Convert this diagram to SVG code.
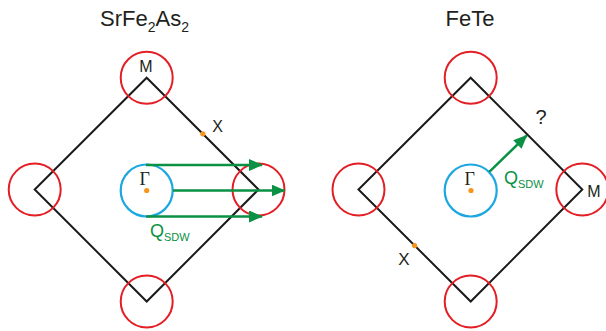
<svg xmlns="http://www.w3.org/2000/svg" width="606" height="331" viewBox="0 0 606 331">
<style>
text{font-family:"Liberation Sans",Arial,sans-serif;fill:#231f20}
.bz{fill:none;stroke:#1a1a1a;stroke-width:2}
.pk{fill:none;stroke:#e31e24;stroke-width:2}
.gm{fill:none;stroke:#1ca7e1;stroke-width:2.2}
.dot{fill:#f7941d}
.q{stroke:#0a9143;stroke-width:2.5;fill:none;marker-end:url(#ah)}
.ql{fill:#0a9143}
.gam{font-family:"Liberation Serif","Times New Roman",serif;font-size:18px}
</style>
<defs>
<marker id="ah" viewBox="0 0 14 12" refX="13" refY="6" markerWidth="14" markerHeight="12" markerUnits="userSpaceOnUse" orient="auto">
<path d="M0,0 L14,6 L0,12 Z" fill="#0a9143"/>
</marker>
</defs>

<g id="title-left"><text x="144.5" y="26" font-size="22" text-anchor="middle">SrFe<tspan font-size="14" dy="6">2</tspan><tspan dy="-6">As</tspan><tspan font-size="14" dy="6">2</tspan></text></g>
<g id="title-right"><text x="470" y="26" font-size="22" text-anchor="middle">FeTe</text></g>

<g id="bz-left">
<path class="bz" d="M146.7,77.7 L258.5,189.5 L146.7,301.5 L34.7,189.5 Z"/>
</g>
<g id="pockets-left">
<circle class="pk" cx="146.7" cy="77.7" r="26"/>
<circle class="pk" cx="258.5" cy="189.5" r="26"/>
<circle class="pk" cx="146.7" cy="301.5" r="26"/>
<circle class="pk" cx="34.7" cy="189.5" r="26"/>
</g>
<g id="gamma-left">
<circle class="gm" cx="146.7" cy="190.5" r="26"/>
<circle class="dot" cx="146.7" cy="190.5" r="2.6"/>
<text class="gam" x="144.7" y="184.5" text-anchor="middle">Γ</text>
</g>
<g id="X-left">
<circle class="dot" cx="202.8" cy="133.8" r="2.6"/>
<text x="217.5" y="132" font-size="16" text-anchor="middle">X</text>
</g>
<text x="146" y="72" font-size="16" text-anchor="middle">M</text>

<g id="bz-right">
<path class="bz" d="M470.7,77.7 L582.3,189.5 L470.7,301.5 L358.5,189.5 Z"/>
</g>
<g id="pockets-right">
<circle class="pk" cx="470.7" cy="77.7" r="26"/>
<circle class="pk" cx="582.3" cy="189.5" r="26"/>
<circle class="pk" cx="470.7" cy="301.5" r="26"/>
<circle class="pk" cx="358.5" cy="189.5" r="26"/>
</g>
<g id="gamma-right">
<circle class="gm" cx="470.7" cy="190.5" r="26"/>
<circle class="dot" cx="471" cy="190.5" r="2.6"/>
<text class="gam" x="469.7" y="184.5" text-anchor="middle">Γ</text>
</g>
<g id="X-right">
<circle class="dot" cx="414.6" cy="245.6" r="2.6"/>
<text x="404" y="264.5" font-size="17" text-anchor="middle">X</text>
</g>
<text x="594" y="196.5" font-size="16" text-anchor="middle">M</text>
<text x="541" y="124" font-size="20" text-anchor="middle">?</text>

<g id="connectors">
<line class="q" x1="146" y1="165" x2="262" y2="165"/>
<line class="q" x1="173" y1="190.5" x2="284.5" y2="190.5"/>
<line class="q" x1="146" y1="216.5" x2="262" y2="216.5"/>
<line class="q" x1="489.3" y1="171.8" x2="526.7" y2="135.5"/>
</g>
<g id="qlabels">
<text class="ql" x="150" y="236.5" font-size="18">Q<tspan font-size="11" dy="4">SDW</tspan></text>
<text class="ql" x="504" y="184" font-size="18">Q<tspan font-size="11" dy="4">SDW</tspan></text>
</g>
</svg>
